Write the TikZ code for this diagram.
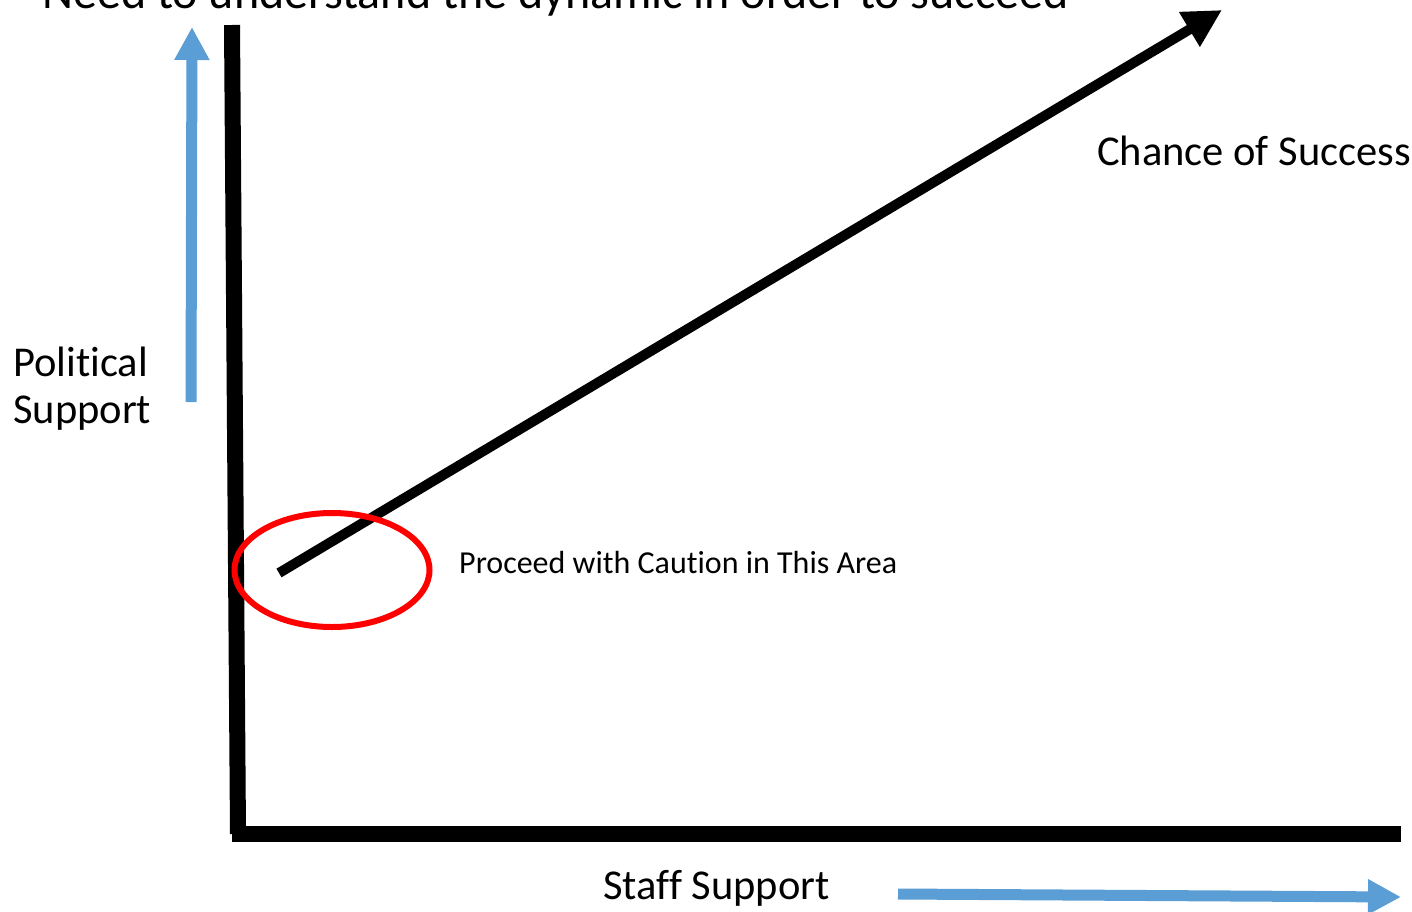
\documentclass[tikz,border=0pt]{standalone}
\usepackage{fontspec}
\setmainfont[Ligatures=NoCommon]{Carlito}
\usetikzlibrary{arrows.meta,shapes.geometric,positioning}

\begin{document}
\begin{tikzpicture}[x=1pt, y=-1pt, line cap=butt]

    \tikzstyle{axis}  = [line width=16pt, draw=black]
    \tikzstyle{trend} = [line width=10pt, draw=black, -{Triangle[length=38pt, width=38pt]}]
    \tikzstyle{hint}  = [line width=11pt, draw=axisblue, -{Triangle[length=33pt, width=33pt]}]
    \tikzstyle{lbl}   = [anchor=base west, inner sep=0pt, font=\fontsize{42.5}{47}\selectfont]
    \colorlet{axisblue}{rgb,255:red,91;green,157;blue,213}

    \useasboundingbox (0,0) rectangle (1412,911);

    % axes
    \coordinate (ytop)   at (232,25);
    \coordinate (origin) at (238,834);
    \coordinate (xend)   at (1401,834);
    \draw[axis] (ytop) -- (origin);
    \draw[axis] (232,834) -- (xend);

    % trend line
    \coordinate (start) at (279,573);
    \coordinate (tip)   at (1222,10);
    \draw[trend] (start) -- (tip);

    % blue hints
    \coordinate (vbottom) at (191,402);
    \coordinate (vtop)    at (192,27);
    \coordinate (hleft)   at (898,894);
    \coordinate (hright)  at (1401,897);
    \draw[hint] (vbottom) -- (vtop);
    \draw[hint] (hleft) -- (hright);

    % caution area
    \node (area) [ellipse, draw=red, line width=6pt, minimum width=195pt, minimum height=114pt, inner sep=0pt] at (332,570) {};

    \node (title)     [lbl, font=\fontsize{48}{56}\selectfont] at (42,8)   {Need to understand the dynamic in order to succeed};
    \node (chance)    [lbl] at (1097,165) {Chance of Success};
    \node (political) [lbl, align=left] at (13,423) {Political\\Support};
    \node (caution)   [lbl, font=\fontsize{32}{38}\selectfont] at (459,573) {Proceed with Caution in This Area};
    \node (staff)     [lbl] at (603,899) {Staff Support};

\end{tikzpicture}
\end{document}
